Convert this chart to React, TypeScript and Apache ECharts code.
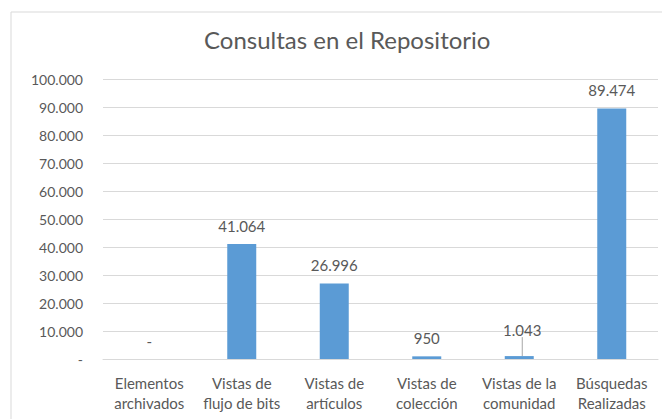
import React, { useEffect, useRef } from "react";
import * as echarts from "echarts";

const title = "Consultas en el Repositorio";
const categories = [
  "Elementos\narchivados",
  "Vistas de\nflujo de bits",
  "Vistas de\nartículos",
  "Vistas de\ncolección",
  "Vistas de la\ncomunidad",
  "Búsquedas\nRealizadas",
];
const values = [0, 41064, 26996, 950, 1043, 89474];
const yMin = 0;
const yMax = 100000;
const yInterval = 10000;

const fmt = (v: number) =>
  v === 0 ? "-" : String(Math.round(v)).replace(/\B(?=(\d{3})+(?!\d))/g, ".");

const FONT = "Lato, 'Open Sans', sans-serif";
const TXT = "#595959";

export default function App() {
  const ref = useRef<HTMLDivElement>(null);
  useEffect(() => {
    if (!ref.current) return;
    const chart = echarts.init(ref.current, undefined, { renderer: "svg" });
    chart.setOption({
      animation: false,
      backgroundColor: "#ffffff",
      title: {
        text: title,
        left: 199,
        top: 22,
        textStyle: { fontFamily: FONT, fontSize: 24, fontWeight: "normal", color: TXT },
      },
      graphic: [
        {
          type: "rect",
          shape: { x: 11, y: 12, width: 700, height: 450 },
          style: { fill: "none", stroke: "#d9d9d9", lineWidth: 1 },
          silent: true,
          z: -1,
        },
      ],
      grid: { left: 103, right: 4, top: 79, bottom: 60, containLabel: false },
      xAxis: {
        type: "category",
        data: categories,
        axisLine: { show: true, lineStyle: { color: "#d9d9d9" } },
        axisTick: { show: false },
        axisLabel: {
          fontFamily: FONT,
          fontSize: 15,
          color: TXT,
          lineHeight: 20,
          margin: 14,
          interval: 0,
        },
      },
      yAxis: {
        type: "value",
        min: yMin,
        max: yMax,
        interval: yInterval,
        axisLine: { show: false },
        axisTick: { show: false },
        splitLine: { lineStyle: { color: "#d9d9d9" } },
        axisLabel: {
          fontFamily: FONT,
          fontSize: 14,
          color: TXT,
          margin: 20,
          formatter: (v: number) => fmt(v),
        },
      },
      series: [
        {
          type: "bar",
          data: values.map((v, i) =>
            i === 4
              ? { value: v, labelLine: { show: true, lineStyle: { color: "#a6a6a6", width: 1 } } }
              : v
          ),
          barWidth: 29,
          itemStyle: { color: "#5B9BD5" },
          label: {
            show: true,
            position: "top",
            distance: 11,
            fontFamily: FONT,
            fontSize: 15,
            color: TXT,
            formatter: (p: any) => fmt(p.value),
          },
          labelLine: { show: false },
          labelLayout: (p: any) => (p.dataIndex === 4 ? { dy: -8, dx: 3 } : {}),
        },
      ],
    });
    return () => chart.dispose();
  }, []);
  return <div ref={ref} style={{ width: 662, height: 419, position: "absolute", left: 0, top: 0 }} />;
}
